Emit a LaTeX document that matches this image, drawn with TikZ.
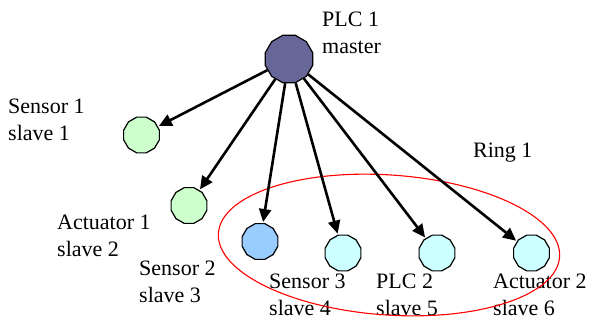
\documentclass[tikz,border=0pt]{standalone}
\usepackage{fontspec}
\setmainfont{Liberation Serif}
\usetikzlibrary{shapes.geometric,arrows.meta}

\definecolor{masterfill}{RGB}{102,102,153}
\definecolor{greenfill}{RGB}{204,255,204}
\definecolor{bluefill}{RGB}{153,204,255}
\definecolor{cyanfill}{RGB}{204,255,255}

\begin{document}
\begin{tikzpicture}[x=1pt,y=-1pt,
    dev/.style={regular polygon,regular polygon sides=12,draw,line width=1.2pt,minimum size=37pt,inner sep=0pt},
    lbl/.style={anchor=base west,align=left,inner sep=0pt,font=\fontsize{22}{27}\selectfont},
    link/.style={-{Triangle[length=13pt,width=12pt]},line width=2.6pt,shorten >=1pt}]
                    \useasboundingbox (0,0) rectangle (591,322);

                    \node[dev,fill=masterfill,minimum size=49pt] at (289,59) (0) {};
                    \node[dev,fill=greenfill] at (141.5,135) (1) {};
                    \node[dev,fill=greenfill] at (189,205.5) (2) {};
                    \node[dev,fill=bluefill] at (260,241.5) (3) {};
                    \node[dev,fill=cyanfill] at (343,253) (4) {};
                    \node[dev,fill=cyanfill] at (437,253) (5) {};
                    \node[dev,fill=cyanfill] at (531.5,253) (6) {};

                    % base west = baseline of the second line
                    \node[lbl] at (322,53) (t0) {PLC 1\\master};
                    \node[lbl] at (8,140) (t1) {Sensor 1\\slave 1};
                    \node[lbl] at (57,256) (t2) {Actuator 1\\slave 2};
                    \node[lbl] at (139,302) (t3) {Sensor 2\\slave 3};
                    \node[lbl] at (269,315) (t4) {Sensor 3\\slave 4};
                    \node[lbl] at (376,315) (t5) {PLC 2\\slave 5};
                    \node[lbl] at (493,315) (t6) {Actuator 2\\slave 6};
                    \node[lbl] at (473,157) (r1) {Ring 1};

                    % ring 1
                    \draw[red,line width=1.1pt,rotate around={-4:(389,245)}] (389,245) ellipse [x radius=171pt,y radius=70pt];

                    \draw[link] (0) -- (1);
                    \draw[link] (0) -- (2);
                    \draw[link] (0) -- (3);
                    \draw[link] (0) -- (4);
                    \draw[link] (0) -- (5);
                    \draw[link] (0) -- (6);
                \end{tikzpicture}
\end{document}
